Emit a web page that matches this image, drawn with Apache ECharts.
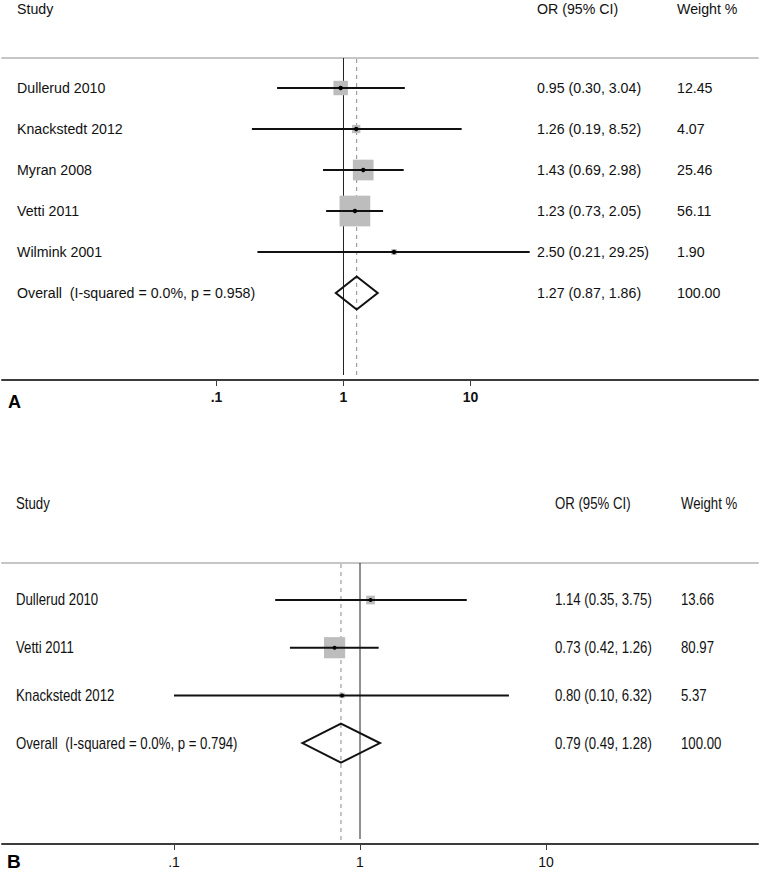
<!DOCTYPE html>
<html><head><meta charset="utf-8">
<script src="https://cdn.jsdelivr.net/npm/echarts@6/dist/echarts.min.js"></script>
<style>html,body{margin:0;padding:0;background:#fff}#c{width:761px;height:872px}</style>
</head><body><div id="c"></div>
<script>
// ---------- Panel A data ----------
const studiesA = ['Dullerud 2010', 'Knackstedt 2012', 'Myran 2008', 'Vetti 2011', 'Wilmink 2001'];
const orA = [0.95, 1.26, 1.43, 1.23, 2.50];
const lowA = [0.30, 0.19, 0.69, 0.73, 0.21];
const highA = [3.04, 8.52, 2.98, 2.05, 29.25];
const weightA = [12.45, 4.07, 25.46, 56.11, 1.90];
const overallA = [1.27, 0.87, 1.86];
const overallLabelA = 'Overall \u00a0(I-squared = 0.0%, p = 0.958)';

// ---------- Panel B data ----------
const studiesB = ['Dullerud 2010', 'Vetti 2011', 'Knackstedt 2012'];
const orB = [1.14, 0.73, 0.80];
const lowB = [0.35, 0.42, 0.10];
const highB = [3.75, 1.26, 6.32];
const weightB = [13.66, 80.97, 5.37];
const overallB = [0.79, 0.49, 1.28];
const overallLabelB = 'Overall \u00a0(I-squared = 0.0%, p = 0.794)';

const overallWeight = 100.00;
const nullValue = 1;
const tickValues = [0.1, 1, 10];
const tickLabels = ['.1', '1', '10'];
const headers = ['Study', 'OR (95% CI)', 'Weight %'];

const FONT = '"Liberation Sans", Arial, Helvetica, sans-serif';

const panels = [
  {
    letter: 'A', studies: studiesA, or: orA, low: lowA, high: highA, w: weightA,
    overall: overallA, overallLabel: overallLabelA,
    grid: { left: 2, right: 3, top: 58, height: 322 },
    xMin: 0.002047, xMax: 1836, yMin: 0.268, yMax: 8.122,
    fontSize: 14.2, sy: 1.05, boxK: 4.1, dotR: 2.2, diamondH: 16.5,
    colName: 17, colOR: 537, colW: 677, headY: 9, headOR: 537, headW: 677,
    letterX: 8, letterY: 402, letterSize: 18, tickBold: 'bold', labelMargin: 10
  },
  {
    letter: 'B', studies: studiesB, or: orB, low: lowB, high: highB, w: weightB,
    overall: overallB, overallLabel: overallLabelB,
    grid: { left: 2, right: 3, top: 563, height: 281 },
    xMin: 0.01189, xMax: 138, yMin: 0.224, yMax: 6.115,
    fontSize: 13.2, sy: 1.22, boxK: 2.35, dotR: 2.0, diamondH: 19.5,
    colName: 16, colOR: 555, colW: 681, headY: 504, headOR: 555, headW: 681,
    letterX: 7, letterY: 861, letterSize: 19, tickBold: 'normal', labelMargin: 11
  }
];

function fmt(v) { return v.toFixed(2); }
function tickLabel(v) {
  for (let i = 0; i < tickValues.length; i++) {
    if (Math.abs(Math.log10(v) - Math.log10(tickValues[i])) < 1e-6) return tickLabels[i];
  }
  return '';
}
function txt(x, y, text, p, extra) {
  return Object.assign({
    type: 'text', x: x, y: y, scaleY: p.sy,
    style: { text: text, fill: '#111', font: p.fontSize + 'px ' + FONT, verticalAlign: 'middle', align: 'left' }
  }, extra || {});
}

const grids = [], xAxes = [], yAxes = [], series = [], graphics = [];

panels.forEach(function (p, k) {
  grids.push(p.grid);
  // bottom log axis with ticks .1, 1, 10
  xAxes.push({
    type: 'log', logBase: 10, gridIndex: k, position: 'bottom', min: p.xMin, max: p.xMax,
    axisLine: { show: true, onZero: false, lineStyle: { color: '#3c3c3c', width: 2 } },
    axisTick: { show: true, customValues: tickValues, length: 6, lineStyle: { color: '#3c3c3c', width: 1 } },
    axisLabel: { show: true, customValues: tickValues, formatter: tickLabel, margin: p.labelMargin,
      color: '#111', fontSize: 14, fontWeight: p.tickBold, fontFamily: FONT },
    splitLine: { show: false }, minorTick: { show: false }
  });
  // top axis used as the grey rule under the headers
  xAxes.push({
    type: 'log', logBase: 10, gridIndex: k, position: 'top', min: p.xMin, max: p.xMax,
    axisLine: { show: true, onZero: false, lineStyle: { color: '#c6c6c6', width: 2 } },
    axisTick: { show: false }, axisLabel: { show: false }, splitLine: { show: false }
  });
  yAxes.push({ type: 'value', gridIndex: k, inverse: true, min: p.yMin, max: p.yMax, show: false });

  const n = p.studies.length;
  const rows = p.studies.map(function (s, i) { return [p.or[i], p.low[i], p.high[i], p.w[i], i + 1]; });
  rows.push([p.overall[0], p.overall[1], p.overall[2], overallWeight, n + 1]);

  // reference lines (null line and overall dashed line)
  series.push({
    type: 'custom', xAxisIndex: 2 * k, yAxisIndex: k, z: 1, silent: true,
    data: [[p.overall[0], n + 1]],
    encode: { x: 0, y: 1 },
    renderItem: function (params, api) {
      const cs = params.coordSys;
      const xn = api.coord([nullValue, api.value(1)])[0];
      const xo = api.coord([api.value(0), api.value(1)])[0];
      return { type: 'group', children: [
        { type: 'line', shape: { x1: xn, y1: cs.y, x2: xn, y2: cs.y + cs.height - 5 },
          style: { stroke: '#222', lineWidth: 1 } },
        { type: 'line', shape: { x1: xo, y1: cs.y + 1, x2: xo, y2: cs.y + cs.height - 4 },
          style: { stroke: '#8c8c8c', lineWidth: 1, lineDash: [4, 4] } }
      ] };
    }
  });

  // studies + overall
  series.push({
    type: 'custom', xAxisIndex: 2 * k, yAxisIndex: k, z: 2, silent: true,
    data: rows,
    encode: { x: [0, 1, 2], y: 4 },
    renderItem: function (params, api) {
      const i = params.dataIndex;
      const v = api.value(4);
      const c = api.coord([api.value(0), v]);
      const l = api.coord([api.value(1), v]);
      const h = api.coord([api.value(2), v]);
      const ciText = fmt(api.value(0)) + ' (' + fmt(api.value(1)) + ', ' + fmt(api.value(2)) + ')';
      const wText = fmt(api.value(3));
      const children = [];
      if (i < n) {
        const side = p.boxK * Math.sqrt(api.value(3));
        children.push({ type: 'rect', shape: { x: c[0] - side / 2, y: c[1] - side / 2, width: side, height: side },
          style: { fill: '#bdbdbd' } });
        children.push({ type: 'line', shape: { x1: l[0], y1: c[1], x2: h[0], y2: c[1] },
          style: { stroke: '#111', lineWidth: 2 } });
        children.push({ type: 'circle', shape: { cx: c[0], cy: c[1], r: p.dotR }, style: { fill: '#000' } });
        children.push(txt(p.colName, c[1], p.studies[i], p));
      } else {
        children.push({ type: 'polygon', shape: { points: [[l[0], c[1]], [c[0], c[1] - p.diamondH], [h[0], c[1]], [c[0], c[1] + p.diamondH]] },
          style: { fill: 'none', stroke: '#111', lineWidth: 2 } });
        children.push(txt(p.colName, c[1], p.overallLabel, p));
      }
      children.push(txt(p.colOR, c[1], ciText, p));
      children.push(txt(p.colW, c[1], wText, p));
      return { type: 'group', children: children };
    }
  });

  // headers and panel letter
  [[p.colName, headers[0]], [p.headOR, headers[1]], [p.headW, headers[2]]].forEach(function (hd) {
    graphics.push({ type: 'text', x: hd[0], y: p.headY, scaleY: p.sy,
      style: { text: hd[1], fill: '#111', font: p.fontSize + 'px ' + FONT, verticalAlign: 'middle' } });
  });
  graphics.push({ type: 'text', x: p.letterX, y: p.letterY,
    style: { text: p.letter, fill: '#000', font: 'bold ' + p.letterSize + 'px ' + FONT, verticalAlign: 'middle' } });
});

const chart = echarts.init(document.getElementById('c'), null, { renderer: 'svg' });
chart.setOption({
  animation: false,
  backgroundColor: '#fff',
  grid: grids, xAxis: xAxes, yAxis: yAxes, series: series, graphic: graphics
});
</script>
</body></html>
